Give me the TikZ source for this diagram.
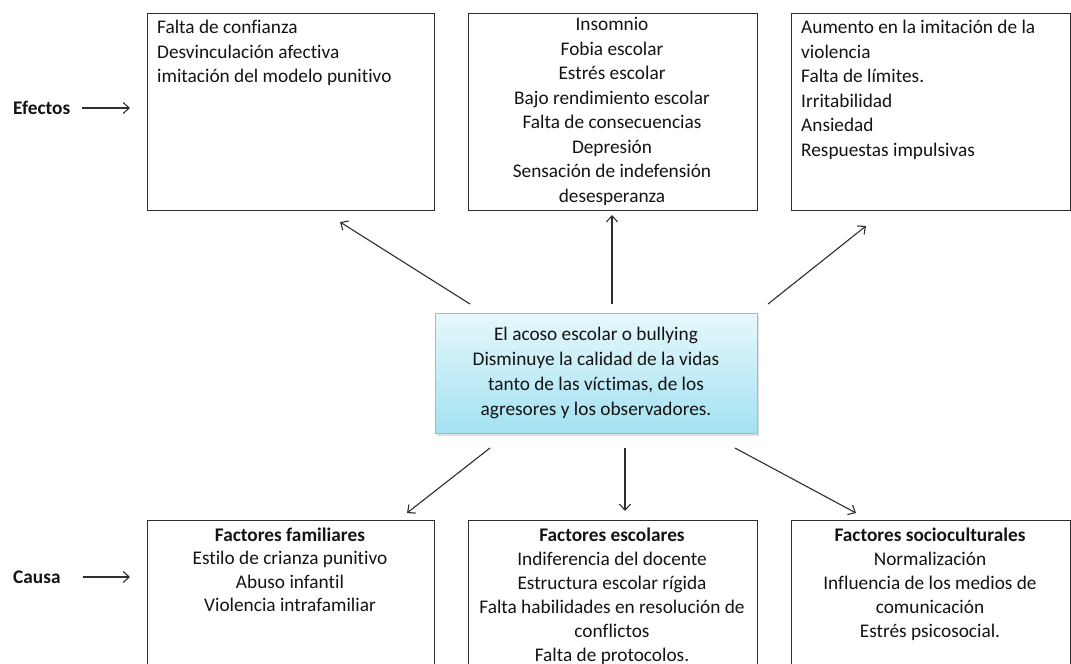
\documentclass[tikz,border=0pt]{standalone}
\usepackage{fontspec}
\setmainfont{Carlito}[Ligatures=NoCommon]
\usetikzlibrary{arrows.meta,shadows}
\definecolor{linec}{HTML}{2E2E2E}
\definecolor{txt}{HTML}{141414}
\definecolor{cTop}{HTML}{E6F8FC}
\definecolor{cBot}{HTML}{A3E1F1}
\definecolor{cBorder}{HTML}{8CC4D2}
\begin{document}
\begin{tikzpicture}[x=1pt,y=-1pt,
  box/.style={draw=linec, line width=1.3pt, inner sep=0pt, anchor=north west},
  txtn/.style={inner sep=0pt, text=txt, font=\fontsize{19.3}{24.5}\selectfont},
  lbl/.style={inner sep=0pt, text=txt, font=\fontsize{19.3}{24.5}\selectfont\bfseries, anchor=west},
  arr/.style={draw=linec, line width=1.1pt, -{Straight Barb[length=6pt,width=11pt]}},
]
\useasboundingbox (0,0) rectangle (1071,664);
\clip (0,0) rectangle (1071,664);
\fill[white] (0,0) rectangle (1071,664);

% effect boxes
\node[box, minimum width=287pt, minimum height=197pt] (e1) at (147,13) {};
\node[box, minimum width=289pt, minimum height=197pt] (e2) at (468,13) {};
\node[box, minimum width=279pt, minimum height=197pt] (e3) at (791,13) {};
% cause boxes
\node[box, minimum width=287pt, minimum height=170pt] (c1) at (147,520) {};
\node[box, minimum width=289pt, minimum height=170pt] (c2) at (468,520) {};
\node[box, minimum width=279pt, minimum height=170pt] (c3) at (791,520) {};

% center box
\node[draw=cBorder, line width=1pt, top color=cTop, bottom color=cBot,
      minimum width=322pt, minimum height=120pt, inner sep=0pt,
      drop shadow={opacity=0.25, shadow xshift=1.5pt, shadow yshift=-2.5pt}] (m) at (596,373) {};

% texts
\node[txtn, anchor=north west, align=left] (t1) at (157,16.4)
  {\strut Falta de confianza\\Desvinculación afectiva\\imitación del modelo punitivo};
\node[txtn, anchor=north, align=center] (t2) at (612,13.4)
  {\strut Insomnio\\Fobia escolar\\Estrés escolar\\Bajo rendimiento escolar\\Falta de consecuencias\\Depresión\\Sensación de indefensión\\desesperanza};
\node[txtn, anchor=north west, align=left] (t3) at (801,16.4)
  {\strut Aumento en la imitación de la\\violencia\\Falta de límites.\\Irritabilidad\\Ansiedad\\Respuestas impulsivas};
\node[txtn, anchor=north, align=center, font=\fontsize{19.3}{25}\selectfont] (tm) at (596,322.4)
  {\strut El acoso escolar o bullying\\Disminuye la calidad de la vidas\\tanto de las víctimas, de los\\agresores y los observadores.};
\node[txtn, anchor=north, align=center, font=\fontsize{19.3}{23.5}\selectfont] (b1) at (290,524.4)
  {\strut\textbf{Factores familiares}\\Estilo de crianza punitivo\\Abuso infantil\\Violencia intrafamiliar};
\node[txtn, anchor=north, align=center, font=\fontsize{19.3}{24}\selectfont] (b2) at (612,524.4)
  {\strut\textbf{Factores escolares}\\Indiferencia del docente\\Estructura escolar rígida\\Falta habilidades en resolución de\\conflictos\\Falta de protocolos.};
\node[txtn, anchor=north, align=center, font=\fontsize{19.3}{24}\selectfont] (b3) at (930,524.4)
  {\strut\textbf{Factores socioculturales}\\Normalización\\Influencia de los medios de\\comunicación\\Estrés psicosocial.};

% side labels
\node[lbl] (lef) at (13,108) {Efectos};
\node[lbl] (lca) at (13,577) {Causa};
\coordinate (lefs) at (82,108); \coordinate (lefe) at (130,108);
\coordinate (lcas) at (83,577); \coordinate (lcae) at (130,577);
\draw[arr] (lefs) -- (lefe);
\draw[arr] (lcas) -- (lcae);

% arrows from center
\coordinate (u1s) at (470,304); \coordinate (u1e) at (340,222);
\coordinate (u2s) at (612,304); \coordinate (u2e) at (612,215);
\coordinate (u3s) at (768,304); \coordinate (u3e) at (866,226);
\coordinate (d1s) at (490,448); \coordinate (d1e) at (407,513);
\coordinate (d2s) at (625,448); \coordinate (d2e) at (625,511);
\coordinate (d3s) at (735,448); \coordinate (d3e) at (856,513);
\draw[arr] (u1s) -- (u1e);
\draw[arr] (u2s) -- (u2e);
\draw[arr] (u3s) -- (u3e);
\draw[arr] (d1s) -- (d1e);
\draw[arr] (d2s) -- (d2e);
\draw[arr] (d3s) -- (d3e);
\end{tikzpicture}
\end{document}
